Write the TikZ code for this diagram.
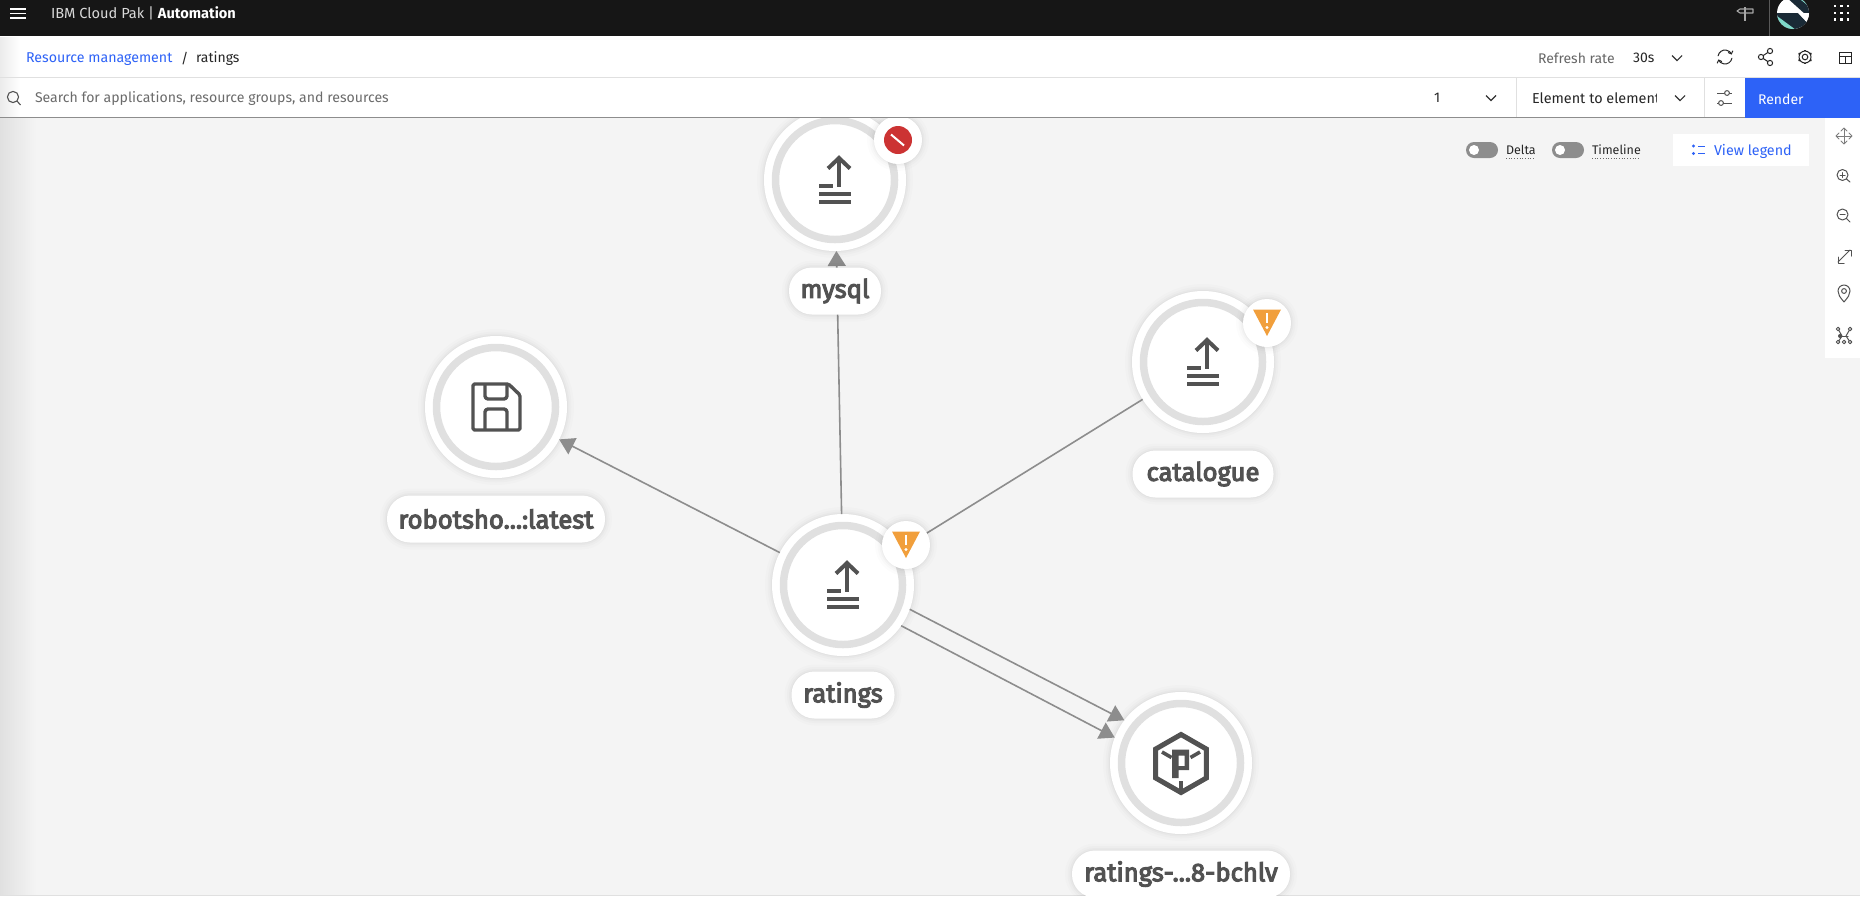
\documentclass[tikz,border=0pt]{standalone}
\usepackage{fontspec}
\setmainfont{Fira Sans}
\newfontfamily\labelfont[RawFeature={embolden=4.2}]{Fira Sans}
\usetikzlibrary{arrows.meta,calc}
\definecolor{topbar}{HTML}{161616}
\definecolor{canvasgrey}{HTML}{F4F4F4}
\definecolor{rulelight}{HTML}{E0E0E0}
\definecolor{ruledark}{HTML}{8D8D8D}
\definecolor{linkblue}{HTML}{2D62F7}
\definecolor{iconink}{HTML}{525252}
\definecolor{ringgrey}{HTML}{E0E0E0}
\definecolor{edgegrey}{HTML}{8D8D8D}
\definecolor{warnorange}{HTML}{F19F3C}
\definecolor{errred}{HTML}{CC3333}
\definecolor{avtdark}{HTML}{1A2A36}
\definecolor{avtteal}{HTML}{7FD8C8}
\newcommand{\pilltext}[1]{\raisebox{-3.5pt}{#1}}
\tikzset{
  x=1pt,y=-1pt,
  softshadow/.style={
    preaction={draw=black,draw opacity=.012,line width=14pt},
    preaction={draw=black,draw opacity=.015,line width=9pt},
    preaction={draw=black,draw opacity=.02,line width=5pt},
    preaction={draw=black,draw opacity=.025,line width=2pt}},
  topo/.style={circle,fill=white,draw=none,inner sep=0pt,outer sep=0pt,minimum size=142pt,softshadow},
  ring/.style={circle,draw=ringgrey,line width=7.5pt,fill=none,inner sep=0pt,minimum size=119pt},
  badge/.style={circle,fill=white,inner sep=0pt,outer sep=0pt,minimum size=48pt,softshadow},
  labelpill/.style={rectangle,rounded corners=23pt,fill=white,inner sep=0pt,outer sep=0pt,
    minimum height=47pt,text=iconink,font=\labelfont\fontsize{25.6}{26}\selectfont,softshadow},
  edge/.style={draw=edgegrey,line width=1.6pt},
  edgearrow/.style={edge,-{Triangle[length=15pt,width=18pt]}},
  txt/.style={inner sep=0pt,outer sep=0pt,anchor=west},
  sm/.style={txt,font=\fontsize{14}{14}\selectfont},
  tool/.style={draw=iconink,line width=1pt,line cap=round,line join=round},
  pics/uploadicon/.style={code={
    \draw[iconink,line width=4pt,line join=miter] (-7,-11.5) -- (4,-22) -- (15,-11.5);
    \draw[iconink,line width=4pt] (4,-20) -- (4,7);
    \draw[iconink,line width=4pt] (-16,6) -- (-2,6);
    \draw[iconink,line width=4pt] (-16,13.5) -- (16,13.5);
    \draw[iconink,line width=4pt] (-16,22) -- (16,22);
  }},
  pics/warnicon/.style={code={
    \fill[warnorange] (-14,-13.5) -- (14,-13.5) -- (0,13) -- cycle;
    \draw[white,line width=2.4pt] (0,-10) -- (0,0);
    \fill[white] (0,4.5) circle (1.7);
  }},
  pics/chev/.style={code={
    \draw[line width=1.1pt,draw=#1] (-5,-2.5) -- (0,2.5) -- (5,-2.5);
  }},
}
\begin{document}
\begin{tikzpicture}
\useasboundingbox (0,0) rectangle (1860,898);
% ---------- page frame
\fill[canvasgrey] (0,0) rectangle (1860,898);
\shade[left color=black!12,right color=canvasgrey] (0,118) rectangle (36,895);
\fill[white] (0,895) rectangle (1860,898);
\draw[rulelight,line width=1pt] (0,895) -- (1860,895);

% ---------- nodes and edges
\node[topo] (mysql) at (835,180) {};
\node[topo] (catalogue) at (1203,362) {};
\node[topo] (robot) at (496,407) {};
\node[topo] (ratings) at (843,585) {};
\node[topo] (pod) at (1181,763) {};
\draw[edgearrow] (ratings) -- (mysql);
\draw[edgearrow] (ratings) -- (robot);
\draw[edge] (ratings) -- (catalogue);
\draw[edgearrow] (ratings.-20) -- (pod.143.5);
\draw[edgearrow] (ratings.-35.5) -- (pod.159.5);

% ---------- rings and icons
\foreach \n in {mysql,catalogue,robot,ratings,pod}{\node[ring] at (\n) {};}
\pic at (mysql) {uploadicon};
\pic at (catalogue) {uploadicon};
\pic at (ratings) {uploadicon};
% floppy
\begin{scope}[shift={(robot)},draw=iconink,line width=3.4pt,line join=round]
  \draw[rounded corners=1.5pt] (-23,-23) -- (12.5,-23) -- (24,-12) -- (24,23) -- (-23,23) -- cycle;
  \draw[rounded corners=3pt] (-11,-23) -- (-11,-8) -- (11,-8) -- (11,-23);
  \draw[rounded corners=3pt] (-11,23) -- (-11,2) -- (11,2) -- (11,23);
\end{scope}
% pod icon
\begin{scope}[shift={(pod)},draw=iconink,line join=miter]
  \draw[line width=5pt] (0,-28.5) -- (25.3,-14) -- (25.3,15) -- (0,29.5) -- (-25.3,15) -- (-25.3,-14) -- cycle;
  \draw[line width=3.6pt] (-19,-11) -- (-9.5,-5.5);
  \draw[line width=3.6pt] (19,-11) -- (9.5,-5.5);
  \fill[iconink,even odd rule] (-9,-13.5) -- (8,-13.5) -- (8,7) -- (-2.5,7) -- (-2.5,15) -- (-9,15) -- cycle
     (-2.5,-7.5) -- (3.5,-7.5) -- (3.5,3) -- (-2.5,3) -- cycle;
  \draw[line width=4pt] (0,18) -- (0,29);
\end{scope}

% ---------- badges
\node[badge] (bmysql) at (898,140) {};
\fill[errred] (bmysql) circle (14);
\draw[white,line width=2pt] ($(bmysql)+(-7,-5.5)$) -- ($(bmysql)+(6,5.5)$);
\node[badge] (bcat) at (1267,323) {};
\pic at (bcat) {warnicon};
\node[badge] (brat) at (906,545) {};
\pic at (brat) {warnicon};

% ---------- labels
\node[labelpill,minimum width=92pt] (lmysql) at (835,291) {\pilltext{mysql}};
\node[labelpill,minimum width=141pt] (lcat) at (1203,474) {\pilltext{catalogue}};
\node[labelpill,minimum width=218pt] (lrobot) at (496,519) {\pilltext{robotsho...:latest}};
\node[labelpill,minimum width=103pt] (lrat) at (843,695) {\pilltext{ratings}};
\begin{scope}
  \clip (0,118) rectangle (1860,895);
  \node[labelpill,minimum width=218pt] (lpod) at (1181,874) {\pilltext{ratings-...8-bchlv}};
\end{scope}

% ---------- top bars
\fill[white] (0,36) rectangle (1860,117);
\shade[left color=black!8,right color=white] (0,37) rectangle (20,117);
\fill[topbar] (0,0) rectangle (1860,36);
\draw[rulelight,line width=1pt] (0,77.5) -- (1860,77.5);
\draw[ruledark,line width=1.3pt] (0,117.5) -- (1860,117.5);
\draw[rulelight,line width=1pt] (1516,78) -- (1516,117);
\draw[rulelight,line width=1pt] (1704,78) -- (1704,117);
\fill[linkblue] (1745,78) rectangle (1860,117.5);

% header
\foreach \yy in {9,13.5,18}{\draw[white,line width=1.1pt] (10,\yy) -- (26,\yy);}
\node[txt,text=white!85!black,font=\fontsize{14.6}{15}\selectfont] (brand) at (51,13.5) {IBM Cloud Pak | \textcolor{white}{\bfseries Automation}};
% signpost
\begin{scope}[draw=white!65!black,line width=1.1pt,line join=round]
  \draw (1745,7) -- (1745,21);
  \draw (1745,9) -- (1753,9) -- (1753,13) -- (1740,13) -- (1737,11) -- (1740,9) -- (1745,9);
\end{scope}
\draw[white!35!black,line width=1pt] (1769.5,0) -- (1769.5,36);
\begin{scope}
  \clip (1793,13) circle (16);
  \fill[white] (1775,-5) rectangle (1811,31);
  \fill[avtdark] (1777,13) -- (1809,13) -- (1809,30) -- (1777,30) -- cycle;
  \fill[avtdark] (1785,-4) -- (1811,-4) -- (1811,14) -- (1805,14) -- cycle;
  \fill[white] (1777,13) -- (1798,13) -- (1810,26) -- (1810,13) -- cycle;
  \fill[avtdark] (1777,13) -- (1797,13) -- (1808,24) -- (1790,30) -- cycle;
  \fill[avtteal] (1777,16) -- (1796,30) -- (1785,30) -- (1777,23) -- cycle;
  \fill[avtteal] (1796,-4) -- (1811,-4) -- (1811,8) -- cycle;
\end{scope}
\foreach \xx in {1835,1841.5,1848}\foreach \yy in {6,13,19.5}{\fill[white] (\xx-1.2,\yy-1.2) rectangle (\xx+1.2,\yy+1.2);}

% breadcrumb
\node[sm,text=linkblue,font=\fontsize{14.2}{15}\selectfont] (crumb) at (26,59) {Resource management};
\node[sm,text=black!85] (slash) at (181,59) {/};
\node[sm,text=black!85] (crumbb) at (196,59) {ratings};
\node[sm,text=black!60] (rr) at (1538,58) {Refresh rate};
\node[sm,text=black!85] (rs) at (1633,58) {30s};
\pic at (1677,58) {chev=black!80};

% header right icons
\begin{scope}[draw=black!85,line width=1pt,line cap=round]
  \draw[-{Straight Barb[length=2.5pt,width=5pt]}] (1718.1,55.8) arc[start angle=190,end angle=340,radius=7];
  \draw[-{Straight Barb[length=2.5pt,width=5pt]}] (1731.9,58.2) arc[start angle=10,end angle=160,radius=7];
  \draw (1770,51) -- (1761,57) -- (1770,63);
  \draw[fill=white] (1770,51) circle (2.6);
  \draw[fill=white] (1761,57) circle (2.6);
  \draw[fill=white] (1770,63) circle (2.6);
  \draw (1805,57) circle (2.8);
  \draw (1805,57) circle (6);
  \foreach \a in {30,90,...,330}{\draw[line width=1.8pt,line cap=butt] (1805,57) ++(\a:5.8) -- ++(\a:1.6);}
  \draw[line cap=butt] (1839,52) rectangle (1851,63);
  \draw[line cap=butt] (1839,56) -- (1851,56);
  \draw[line cap=butt] (1845,56) -- (1845,63);
\end{scope}

% search row
\draw[iconink,line width=1.1pt] (13,97) circle (5.6);
\draw[iconink,line width=1.1pt] (17,101) -- (20.5,105);
\node[sm,text=black!58,font=\fontsize{14.1}{14}\selectfont] (search) at (35,98.5) {Search for applications, resource groups, and resources};
\node[sm,text=black!85] (depth) at (1434,98) {1};
\pic at (1491,98) {chev=black!80};
\begin{scope}
  \clip (1530,84) rectangle (1656,112);
  \node[sm,text=black!85,font=\fontsize{14.4}{14}\selectfont] (etype) at (1532,98) {Element to element};
\end{scope}
\pic at (1680,98) {chev=black!80};
\begin{scope}[draw=iconink,line width=1pt]
  \draw (1717,93) -- (1732,93);
  \draw[fill=white] (1727,93) circle (2.4);
  \draw (1717,103) -- (1732,103);
  \draw[fill=white] (1721,103) circle (2.4);
\end{scope}
\node[sm,text=white] (render) at (1758,99) {Render};

% toggles
\fill[ruledark,rounded corners=8pt] (1466,142) rectangle (1498,158);
\fill[white] (1474,150) circle (5);
\node[sm,text=black!85,font=\fontsize{12.5}{13}\selectfont] (delta) at (1506,150) {Delta};
\draw[black!60,line width=.7pt,dotted] (1506,158.5) -- (1535,158.5);
\fill[ruledark,rounded corners=8pt] (1552,142) rectangle (1584,158);
\fill[white] (1560,150) circle (5);
\node[sm,text=black!85,font=\fontsize{12.5}{13}\selectfont] (tl) at (1592,150) {Timeline};
\draw[black!60,line width=.7pt,dotted] (1592,158.5) -- (1640,158.5);
% legend button
\fill[white] (1673,134) rectangle (1809,166);
\fill[linkblue] (1693.5,146) circle (1.7);
\fill[linkblue] (1693.5,153.5) circle (1.7);
\draw[linkblue,line width=1pt] (1698,146) -- (1705,146);
\draw[linkblue,line width=1pt] (1698,153.5) -- (1705,153.5);
\node[sm,text=linkblue,font=\fontsize{14.3}{14}\selectfont] (legend) at (1714,151) {View legend};

% right toolbar
\fill[white] (1825,118) rectangle (1860,358);
\begin{scope}[tool]
  % move
  \draw[draw=iconink!75] (1837,136) -- (1851,136);
  \draw[draw=iconink!75] (1844,129) -- (1844,143);
  \draw[draw=iconink!75] (1841,131) -- (1844,128) -- (1847,131);
  \draw[draw=iconink!75] (1841,141) -- (1844,144) -- (1847,141);
  \draw[draw=iconink!75] (1839,133) -- (1836,136) -- (1839,139);
  \draw[draw=iconink!75] (1849,133) -- (1852,136) -- (1849,139);
  % zoom in
  \draw (1842.5,175) circle (5.5);
  \draw (1846.5,179) -- (1850,182);
  \draw (1840,175) -- (1845,175);
  \draw (1842.5,172.5) -- (1842.5,177.5);
  % zoom out
  \draw (1842.5,214.5) circle (5.5);
  \draw (1846.5,218.5) -- (1850,222);
  \draw (1840,214.5) -- (1845,214.5);
  % fit
  \draw (1838,262) -- (1850,250);
  \draw (1845,250) -- (1851,250) -- (1851,256);
  \draw (1838,257) -- (1838,263) -- (1844,263);
  % pin
  \draw (1844,302) .. controls (1840,297) and (1838,295) .. (1838,291) arc[start angle=180,end angle=360,radius=6] .. controls (1850,295) and (1848,297) .. (1844,302);
  \draw (1844,291) circle (2.4);
  % topology
  \draw (1838,329) -- (1842,336) -- (1838,342);
  \draw (1850,329) -- (1846,336) -- (1850,342);
  \draw (1840,336) -- (1848,336);
  \foreach \p in {(1838,329),(1850,329),(1838,342),(1850,342),(1844,342)}{\draw[fill=white] \p circle (1.8);}
  \fill[iconink] (1840,336) circle (2);
\end{scope}
\end{tikzpicture}
\end{document}
